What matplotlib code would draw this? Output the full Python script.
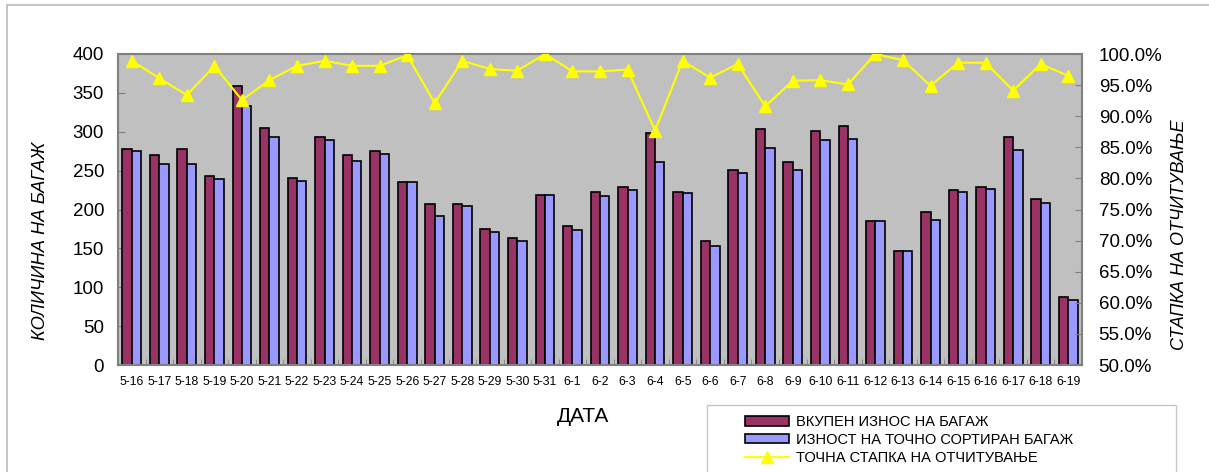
import matplotlib
matplotlib.use("Agg")
import matplotlib.pyplot as plt
import numpy as np
from matplotlib.ticker import FuncFormatter, FixedLocator
from matplotlib.lines import Line2D
from matplotlib.patches import Patch, Rectangle

plt.rcParams['font.family'] = ['Liberation Sans', 'DejaVu Sans']

dates = ["5-16", "5-17", "5-18", "5-19", "5-20", "5-21", "5-22", "5-23", "5-24", "5-25",
         "5-26", "5-27", "5-28", "5-29", "5-30", "5-31", "6-1", "6-2", "6-3", "6-4",
         "6-5", "6-6", "6-7", "6-8", "6-9", "6-10", "6-11", "6-12", "6-13", "6-14",
         "6-15", "6-16", "6-17", "6-18", "6-19"]
total_bags = [278, 270, 278, 243, 359, 305, 241, 293, 270, 275,
              235, 207, 207, 175, 163, 219, 179, 223, 229, 299,
              223, 159, 251, 303, 261, 301, 307, 185, 147, 197,
              225, 229, 293, 213, 87]
sorted_bags = [275, 259, 259, 239, 333, 293, 237, 289, 263, 271,
               235, 191, 205, 171, 159, 219, 173, 217, 225, 261,
               221, 153, 247, 279, 251, 289, 291, 185, 147, 187,
               223, 227, 277, 209, 83]
read_rate = [98.9, 96.1, 93.4, 98.1, 92.6, 95.8, 98.1, 98.9, 98.1, 98.1,
             99.8, 92.1, 98.9, 97.6, 97.3, 100.0, 97.2, 97.2, 97.5, 87.7,
             98.9, 96.2, 98.4, 91.6, 95.7, 95.8, 95.1, 100.0, 99.0, 94.9,
             98.6, 98.6, 94.1, 98.4, 96.5]

W, H = 1209, 472
fig = plt.figure(figsize=(W / 100, H / 100), dpi=100)
fig.patch.set_facecolor('white')

L, R, T, B = 118, 1082, 54, 365
ax = fig.add_axes([L / W, 1 - B / H, (R - L) / W, (B - T) / H])
ax.set_facecolor('#C0C0C0')

x = np.arange(len(dates))
bw = 0.34
ax.bar(x - bw / 2, total_bags, bw, color='#993366', edgecolor='black', linewidth=1.2, zorder=2)
ax.bar(x + bw / 2, sorted_bags, bw, color='#9999FF', edgecolor='black', linewidth=1.2, zorder=2)
ax.set_xlim(-0.5, len(dates) - 0.5)
ax.set_ylim(0, 400)
ax.set_yticks(np.arange(0, 401, 50))
ax.set_xticks(x)
ax.set_xticklabels(dates, fontsize=8.8)
ax.xaxis.set_minor_locator(FixedLocator(np.arange(-0.5, len(dates), 1.0)))
ax.tick_params(axis='x', which='major', length=0, pad=8)
ax.tick_params(axis='x', which='minor', direction='in', length=4, color='#808080')
ax.tick_params(axis='y', direction='in', length=5, color='#808080', labelsize=13.5, pad=10)
for s in ax.spines.values():
    s.set_color('#808080')
    s.set_linewidth(1.5)

ax2 = ax.twinx()
ax2.plot(x, [v / 100 for v in read_rate], color='#FFFF00', linewidth=1.5,
         marker='^', markersize=9, markerfacecolor='#FFFF00', markeredgecolor='#FFFF00', zorder=3)
ax2.set_ylim(0.5, 1.0)
ax2.set_yticks(np.arange(0.5, 1.0001, 0.05))
ax2.yaxis.set_major_formatter(FuncFormatter(lambda v, p: f"{v * 100:.1f}%"))
ax2.tick_params(axis='y', direction='in', length=5, color='#808080', labelsize=13.5, pad=12)
for s in ax2.spines.values():
    s.set_visible(False)

fig.text(40.5 / W, 1 - 241 / H, "КОЛИЧИНА НА БАГАЖ", rotation=90, ha='center', va='center',
         fontsize=13.2, style='italic')
fig.text(1180 / W, 1 - 235 / H, "СТАПКА НА ОТЧИТУВАЊЕ", rotation=90, ha='center', va='center',
         fontsize=13, style='italic')
fig.text(583 / W, 1 - 416 / H, "ДАТА", ha='center', va='center', fontsize=15)

# frame lines of the chart object
fig.add_artist(Line2D([7 / W, 7 / W], [0, 1 - 5 / H], transform=fig.transFigure, color='#BBBBBB', linewidth=1.2))
fig.add_artist(Line2D([7 / W, 1], [1 - 5 / H, 1 - 5 / H], transform=fig.transFigure, color='#BBBBBB', linewidth=1.2))

# legend box
fig.add_artist(Rectangle((707 / W, -0.05), (1176 - 707) / W, (1 - 405 / H) + 0.05,
                         transform=fig.transFigure, facecolor='white', edgecolor='#C8C8C8', linewidth=1.0))
handles = [Patch(facecolor='#993366', edgecolor='black', linewidth=1.2),
           Patch(facecolor='#9999FF', edgecolor='black', linewidth=1.2),
           Line2D([], [], color='#FFFF00', linewidth=1.5, marker='^', markersize=9,
                  markerfacecolor='#FFFF00', markeredgecolor='#FFFF00')]
labels = ["ВКУПЕН ИЗНОС НА БАГАЖ", "ИЗНОСТ НА ТОЧНО СОРТИРАН БАГАЖ", "ТОЧНА СТАПКА НА ОТЧИТУВАЊЕ"]
fig.legend(handles, labels, loc='upper left', bbox_to_anchor=(735 / W, 1 - 405 / H),
           frameon=False, fontsize=10.5, handlelength=3.0, handleheight=0.6,
           handletextpad=0.45, labelspacing=0.25, borderpad=0.2)

fig.savefig("out.png", dpi=100)
